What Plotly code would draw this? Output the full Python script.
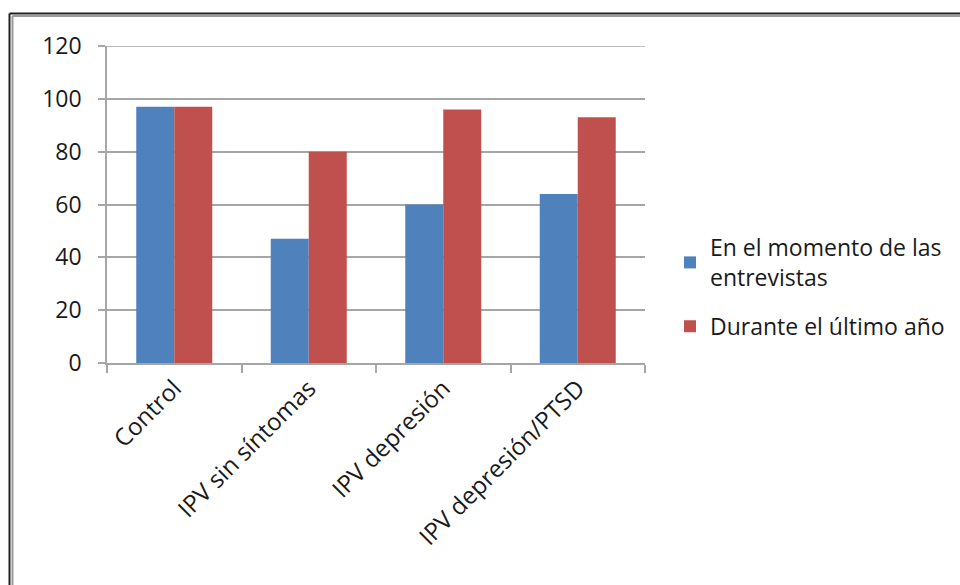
import plotly.graph_objects as go

categories = ["Control", "IPV sin síntomas", "IPV depresión", "IPV depresión/PTSD"]
momento_entrevistas = [97, 47, 60, 64]
ultimo_anio = [97, 80, 96, 93]
series_names = ["En el momento de las<br>entrevistas", "Durante el último año"]
y_ticks = [0, 20, 40, 60, 80, 100, 120]

W, H = 960, 585
L, R, T, B = 107, 645, 46, 363
GRID = "#a6a6a6"


def px_x(p):
    return (p - L) / (R - L)


def px_y(p):
    return (B - p) / (B - T)


FONT = "Open Sans"
TEXT = "#1a1a1a"

fig = go.Figure()
fig.add_trace(go.Bar(x=categories, y=momento_entrevistas, name=series_names[0],
                     legendgroup="a", marker=dict(color="#4F81BD", line=dict(width=0))))
fig.add_trace(go.Bar(x=categories, y=ultimo_anio, name=series_names[1],
                     legendgroup="b", marker=dict(color="#C0504D", line=dict(width=0))))

shapes = []
# top gridline at the axis maximum
shapes.append(dict(type="line", xref="paper", yref="y", x0=0, x1=1, y0=y_ticks[-1], y1=y_ticks[-1],
                   line=dict(color=GRID, width=1.5), layer="below"))
# outer frame (double line, top and left)
frame = [
    dict(x0=px_x(9.5), x1=px_x(9.5), y0=px_y(13.5), y1=px_y(600)),
    dict(x0=px_x(9.5), x1=px_x(970), y0=px_y(13.5), y1=px_y(13.5)),
]
inner = [
    dict(x0=px_x(12.5), x1=px_x(12.5), y0=px_y(16), y1=px_y(600)),
    dict(x0=px_x(12.5), x1=px_x(970), y0=px_y(16), y1=px_y(16)),
]
for s in frame:
    shapes.append(dict(type="line", xref="paper", yref="paper", line=dict(color="#222222", width=2), **s))
for s in inner:
    shapes.append(dict(type="line", xref="paper", yref="paper", line=dict(color="#9a9a9a", width=2), **s))

fig.update_layout(
    width=W, height=H,
    margin=dict(l=L, r=W - R, t=T, b=H - B, pad=0, autoexpand=False),
    paper_bgcolor="white", plot_bgcolor="white",
    barmode="group", bargap=0.435, bargroupgap=0,
    font=dict(family=FONT, size=23, color=TEXT),
    showlegend=True,
    legend=dict(x=px_x(670), y=px_y(226), xanchor="left", yanchor="top",
                font=dict(family=FONT, size=23, color=TEXT),
                tracegroupgap=16, bgcolor="rgba(0,0,0,0)"),
    shapes=shapes,
    xaxis=dict(type="category", tickangle=-45, showgrid=False,
               showline=True, linecolor=GRID, linewidth=1.5,
               ticks="outside", ticklen=8, tickcolor=GRID, tickwidth=1.5,
               tickson="boundaries",
               tickfont=dict(family=FONT, size=24, color=TEXT)),
    yaxis=dict(range=[0, 120], tickvals=y_ticks, showgrid=True,
               gridcolor=GRID, gridwidth=1.5,
               showline=True, linecolor=GRID, linewidth=1.5,
               ticks="outside", ticklen=7, tickcolor=GRID, tickwidth=1.5,
               ticklabelstandoff=12, zeroline=False,
               tickfont=dict(family=FONT, size=23, color=TEXT)),
)

fig.write_html("out.html")
